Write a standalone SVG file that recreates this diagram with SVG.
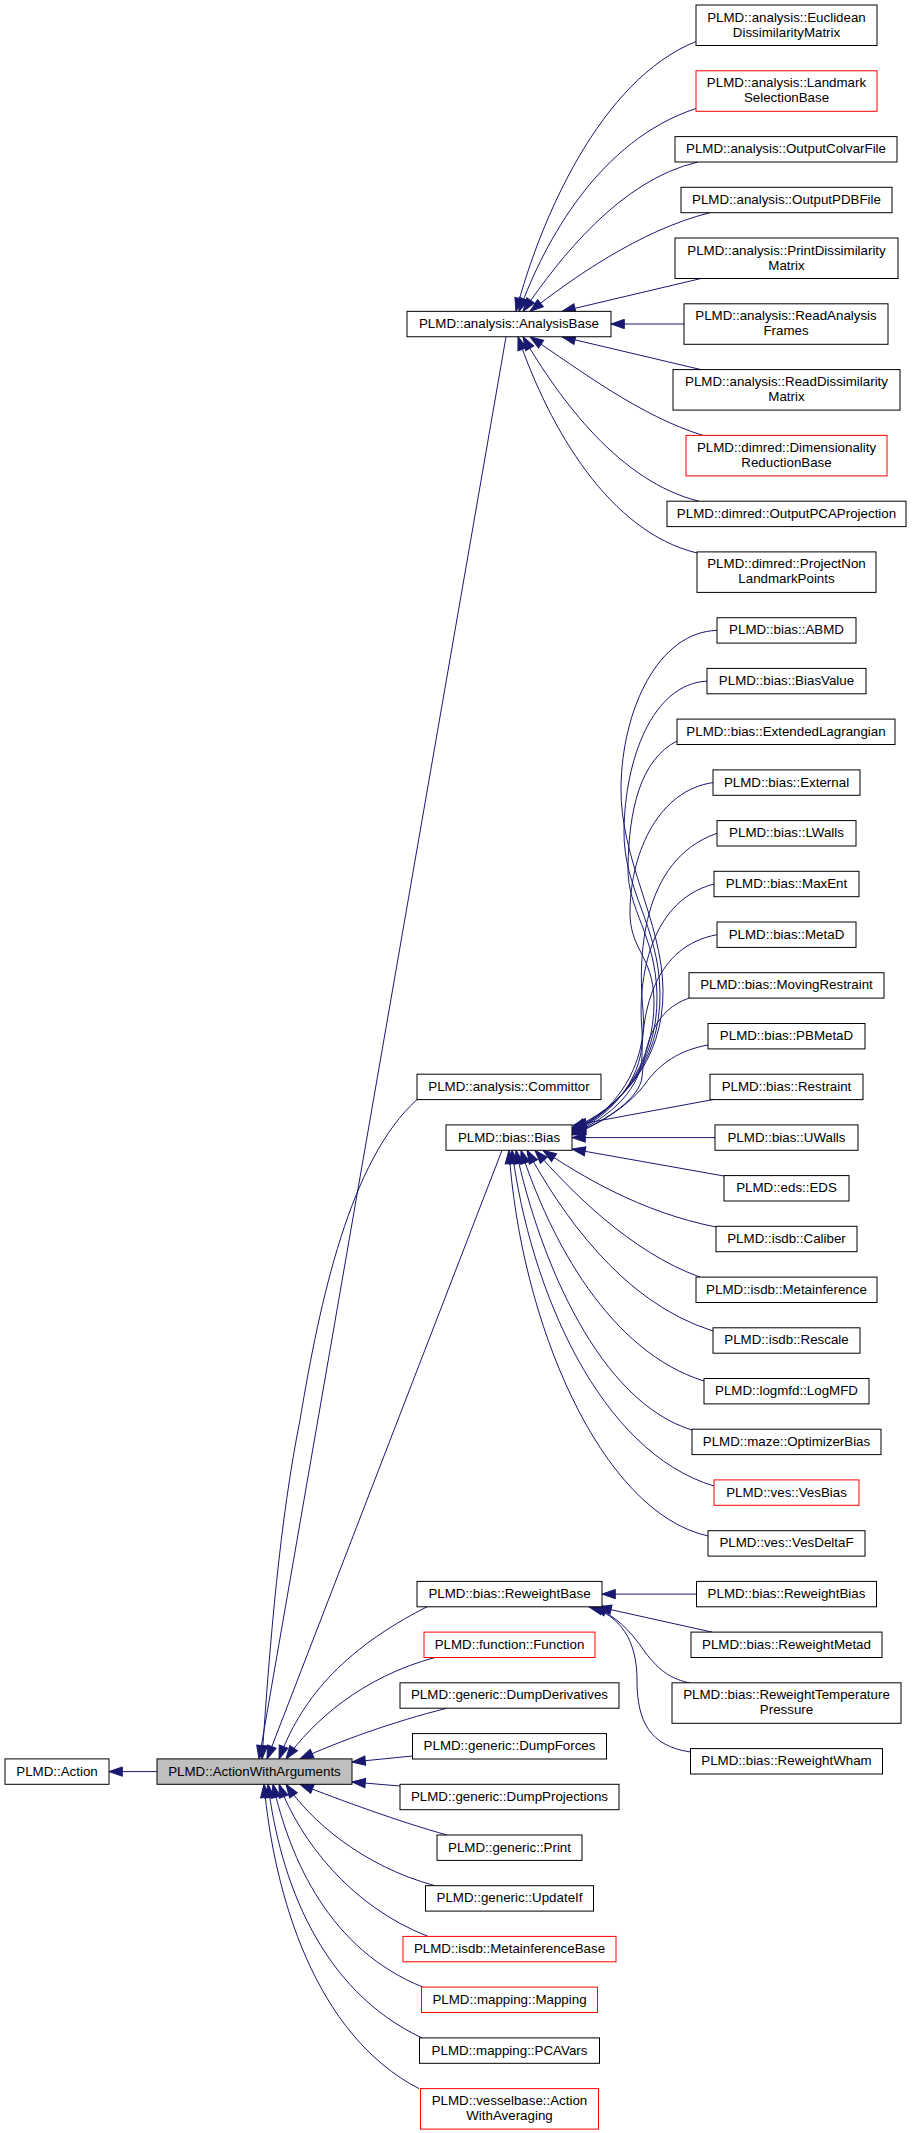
<svg xmlns="http://www.w3.org/2000/svg" width="912" height="2133" viewBox="0 0 912 2133">
<style>
.n rect{fill:#fff;stroke:#000;stroke-width:1}
.n.r rect{stroke:#f00}
.n.g rect{fill:#bfbfbf}
text{font-family:"Liberation Sans",Arial,Helvetica,sans-serif;font-size:13.33px;text-anchor:middle;fill:#000}
.e path{fill:none;stroke:#191970;stroke-width:1;marker-start:url(#a)}
</style>
<defs>
<marker id="a" markerUnits="userSpaceOnUse" markerWidth="16" markerHeight="12" refX="13.3" refY="5" orient="auto-start-reverse" overflow="visible">
<path d="M0,0.35 L13.3,5 L0,9.65 Z" fill="#191970" stroke="#191970" stroke-width="1"/>
</marker>
</defs>
<rect width="912" height="2133" fill="#fff"/>
<g class="e" id="connectors">
<path d="M109,1771.6 L157,1771.6"/>
<path d="M259,1759 L506,336.8"/>
<path d="M262,1759 C270,1640 280,1520 300,1420 C320,1300 350,1160 417,1099.6"/>
<path d="M267,1759 L502,1150.3"/>
<path d="M279,1759 C300,1702 340,1651 427,1606.8"/>
<path d="M286,1759 C312,1722 362,1677 435,1657.5"/>
<path d="M300,1759 C340,1741 392,1722 447,1708.2"/>
<path d="M352,1762 L412.5,1756"/>
<path d="M352,1782 L400,1786"/>
<path d="M300,1784.3 C340,1800 400,1822 447,1835"/>
<path d="M286,1784.3 C310,1820 362,1866 435,1885.7"/>
<path d="M279,1784.3 C300,1840 350,1906 428,1936.4"/>
<path d="M273,1784.3 C290,1860 330,1950 423,1987.1"/>
<path d="M268,1784.3 C280,1880 320,1990 422,2037.9"/>
<path d="M264,1784.3 C274,1895 315,2035 419,2088.6"/>
<path d="M516,311.4 C540,220 600,80 696,41.5"/>
<path d="M519,311.4 C545,240 600,140 696,108.5"/>
<path d="M523,311.4 C560,258 620,180 698,162"/>
<path d="M530,311.4 C570,280 640,230 710,212.7"/>
<path d="M562,311.4 L701,278.5"/>
<path d="M611,324 L684,324"/>
<path d="M562,336.8 L701,369.6"/>
<path d="M530,336.8 C580,370 640,416 703,435.4"/>
<path d="M523,336.8 C560,400 620,482 699,501.2"/>
<path d="M518,336.8 C550,430 610,532 697,553"/>
<path d="M572,1128 C618,1110 664,1062 663,990 C662,920 620,860 621,787 C622,710 658,632 717,630.4"/>
<path d="M572,1129 C617,1111 661,1064 660,993 C659,925 623,890 624,830 C625,760 652,684 707,681.1"/>
<path d="M572,1130 C616,1112 658,1066 657,996 C656,935 627,910 628,867 C629,810 640,760 677,741"/>
<path d="M572,1131 C615,1113 655,1068 654,1000 C653,955 629,950 630,910 C631,850 660,790 713,782.6"/>
<path d="M572,1132 C614,1114 648,1066 643,1010 C638,960 640,860 717,833.3"/>
<path d="M572,1133 C613,1115 646,1076 642,1030 C638,990 645,902 714,884"/>
<path d="M572,1134 C612,1117 642,1086 642,1056 C642,1010 655,946 717,934.7"/>
<path d="M572,1134.5 C610,1119 640,1097 642,1077 C645,1042 655,1010 689,998.1"/>
<path d="M572,1135 C605,1122 632,1102 645,1084 C660,1063 680,1050 708,1045"/>
<path d="M573,1125.5 L713,1099.6"/>
<path d="M572,1137.6 L715,1137.6"/>
<path d="M572,1149 L724,1176"/>
<path d="M543,1150.3 C580,1175 640,1212 716,1227"/>
<path d="M535,1150.3 C570,1190 630,1252 700,1277.1"/>
<path d="M527,1150.3 C560,1210 620,1302 713,1331"/>
<path d="M521,1150.3 C550,1240 610,1352 704,1381"/>
<path d="M516,1150.3 C540,1262 600,1402 692,1430"/>
<path d="M512,1150.3 C530,1290 600,1452 714,1486"/>
<path d="M509,1150.3 C520,1320 600,1512 708,1536"/>
<path d="M602,1594.1 L696.5,1594.1"/>
<path d="M598,1606.8 L712,1632.1"/>
<path d="M593,1606.8 C615,1615 630,1630 645,1652 C660,1672 672,1679 690,1683"/>
<path d="M589,1606.8 C620,1615 637,1640 637,1680 C637,1722 650,1746 690.5,1752"/>
</g>
<g class="n" id="n_action"><rect x="5" y="1758.9" width="104" height="25.4"/><text x="57" y="1775.5">PLMD::Action</text></g>
<g class="n g" id="n_actionwitharguments"><rect x="157" y="1758.9" width="195" height="25.4"/><text x="254.5" y="1775.5">PLMD::ActionWithArguments</text></g>
<g class="n" id="n_analysisbase"><rect x="407" y="311.35" width="204" height="25.4"/><text x="509" y="327.95">PLMD::analysis::AnalysisBase</text></g>
<g class="n" id="n_euclidean"><rect x="696" y="5" width="181" height="40.5"/><text x="786.5" y="21.5">PLMD::analysis::Euclidean</text><text x="786.5" y="36.5">DissimilarityMatrix</text></g>
<g class="n r" id="n_landmark"><rect x="696" y="70.8" width="181" height="40.5"/><text x="786.5" y="87.3">PLMD::analysis::Landmark</text><text x="786.5" y="102.3">SelectionBase</text></g>
<g class="n" id="n_outputcolvar"><rect x="675" y="136.6" width="222" height="25.4"/><text x="786" y="153.2">PLMD::analysis::OutputColvarFile</text></g>
<g class="n" id="n_outputpdb"><rect x="681" y="187.3" width="211" height="25.4"/><text x="786.5" y="203.9">PLMD::analysis::OutputPDBFile</text></g>
<g class="n" id="n_printdiss"><rect x="675" y="238" width="223" height="40.5"/><text x="786.5" y="254.5">PLMD::analysis::PrintDissimilarity</text><text x="786.5" y="269.5">Matrix</text></g>
<g class="n" id="n_readanalysis"><rect x="684" y="303.8" width="204" height="40.5"/><text x="786" y="320.3">PLMD::analysis::ReadAnalysis</text><text x="786" y="335.3">Frames</text></g>
<g class="n" id="n_readdiss"><rect x="673" y="369.6" width="227" height="40.5"/><text x="786.5" y="386.1">PLMD::analysis::ReadDissimilarity</text><text x="786.5" y="401.1">Matrix</text></g>
<g class="n r" id="n_dimred"><rect x="686" y="435.4" width="201" height="40.5"/><text x="786.5" y="451.9">PLMD::dimred::Dimensionality</text><text x="786.5" y="466.9">ReductionBase</text></g>
<g class="n" id="n_outputpca"><rect x="667" y="501.2" width="239" height="25.4"/><text x="786.5" y="517.8">PLMD::dimred::OutputPCAProjection</text></g>
<g class="n" id="n_projectnon"><rect x="697" y="551.9" width="179" height="40.5"/><text x="786.5" y="568.4">PLMD::dimred::ProjectNon</text><text x="786.5" y="583.4">LandmarkPoints</text></g>
<g class="n" id="n_abmd"><rect x="717" y="617.7" width="139" height="25.4"/><text x="786.5" y="634.3">PLMD::bias::ABMD</text></g>
<g class="n" id="n_biasvalue"><rect x="707" y="668.4" width="159" height="25.4"/><text x="786.5" y="685">PLMD::bias::BiasValue</text></g>
<g class="n" id="n_extlag"><rect x="677" y="719.1" width="218" height="25.4"/><text x="786" y="735.7">PLMD::bias::ExtendedLagrangian</text></g>
<g class="n" id="n_external"><rect x="713" y="769.9" width="147" height="25.4"/><text x="786.5" y="786.5">PLMD::bias::External</text></g>
<g class="n" id="n_lwalls"><rect x="717" y="820.6" width="139" height="25.4"/><text x="786.5" y="837.2">PLMD::bias::LWalls</text></g>
<g class="n" id="n_maxent"><rect x="714" y="871.3" width="145" height="25.4"/><text x="786.5" y="887.9">PLMD::bias::MaxEnt</text></g>
<g class="n" id="n_metad"><rect x="717" y="922" width="139" height="25.4"/><text x="786.5" y="938.6">PLMD::bias::MetaD</text></g>
<g class="n" id="n_movingrestraint"><rect x="689" y="972.7" width="195" height="25.4"/><text x="786.5" y="989.3">PLMD::bias::MovingRestraint</text></g>
<g class="n" id="n_pbmetad"><rect x="708" y="1023.5" width="157" height="25.4"/><text x="786.5" y="1040.1">PLMD::bias::PBMetaD</text></g>
<g class="n" id="n_committor"><rect x="417" y="1074.2" width="184" height="25.4"/><text x="509" y="1090.8">PLMD::analysis::Committor</text></g>
<g class="n" id="n_restraint"><rect x="710" y="1074.2" width="153" height="25.4"/><text x="786.5" y="1090.8">PLMD::bias::Restraint</text></g>
<g class="n" id="n_bias"><rect x="446" y="1124.9" width="126" height="25.4"/><text x="509" y="1141.5">PLMD::bias::Bias</text></g>
<g class="n" id="n_uwalls"><rect x="715" y="1124.9" width="143" height="25.4"/><text x="786.5" y="1141.5">PLMD::bias::UWalls</text></g>
<g class="n" id="n_eds"><rect x="724" y="1175.6" width="125" height="25.4"/><text x="786.5" y="1192.2">PLMD::eds::EDS</text></g>
<g class="n" id="n_caliber"><rect x="716" y="1226.3" width="141" height="25.4"/><text x="786.5" y="1242.9">PLMD::isdb::Caliber</text></g>
<g class="n" id="n_metainference"><rect x="696" y="1277.1" width="181" height="25.4"/><text x="786.5" y="1293.7">PLMD::isdb::Metainference</text></g>
<g class="n" id="n_rescale"><rect x="713" y="1327.8" width="147" height="25.4"/><text x="786.5" y="1344.4">PLMD::isdb::Rescale</text></g>
<g class="n" id="n_logmfd"><rect x="704" y="1378.5" width="165" height="25.4"/><text x="786.5" y="1395.1">PLMD::logmfd::LogMFD</text></g>
<g class="n" id="n_optimizerbias"><rect x="692" y="1429.2" width="189" height="25.4"/><text x="786.5" y="1445.8">PLMD::maze::OptimizerBias</text></g>
<g class="n r" id="n_vesbias"><rect x="714" y="1479.9" width="145" height="25.4"/><text x="786.5" y="1496.5">PLMD::ves::VesBias</text></g>
<g class="n" id="n_vesdeltaf"><rect x="708" y="1530.7" width="157" height="25.4"/><text x="786.5" y="1547.3">PLMD::ves::VesDeltaF</text></g>
<g class="n" id="n_reweightbase"><rect x="417" y="1581.4" width="185" height="25.4"/><text x="509.5" y="1598">PLMD::bias::ReweightBase</text></g>
<g class="n" id="n_reweightbias"><rect x="696.5" y="1581.4" width="180" height="25.4"/><text x="786.5" y="1598">PLMD::bias::ReweightBias</text></g>
<g class="n" id="n_reweightmetad"><rect x="691" y="1632.1" width="191" height="25.4"/><text x="786.5" y="1648.7">PLMD::bias::ReweightMetad</text></g>
<g class="n" id="n_reweighttemp"><rect x="672" y="1682.8" width="229" height="40.5"/><text x="786.5" y="1699.3">PLMD::bias::ReweightTemperature</text><text x="786.5" y="1714.3">Pressure</text></g>
<g class="n" id="n_reweightwham"><rect x="690.5" y="1748.6" width="192" height="25.4"/><text x="786.5" y="1765.2">PLMD::bias::ReweightWham</text></g>
<g class="n r" id="n_function"><rect x="424" y="1632.1" width="171" height="25.4"/><text x="509.5" y="1648.7">PLMD::function::Function</text></g>
<g class="n" id="n_dumpderivatives"><rect x="400" y="1682.8" width="219" height="25.4"/><text x="509.5" y="1699.4">PLMD::generic::DumpDerivatives</text></g>
<g class="n" id="n_dumpforces"><rect x="412.5" y="1733.6" width="194" height="25.4"/><text x="509.5" y="1750.2">PLMD::generic::DumpForces</text></g>
<g class="n" id="n_dumpprojections"><rect x="400" y="1784.3" width="219" height="25.4"/><text x="509.5" y="1800.9">PLMD::generic::DumpProjections</text></g>
<g class="n" id="n_print"><rect x="437" y="1835" width="145" height="25.4"/><text x="509.5" y="1851.6">PLMD::generic::Print</text></g>
<g class="n" id="n_updateif"><rect x="425.5" y="1885.7" width="168" height="25.4"/><text x="509.5" y="1902.3">PLMD::generic::UpdateIf</text></g>
<g class="n r" id="n_metainferencebase"><rect x="403" y="1936.4" width="213" height="25.4"/><text x="509.5" y="1953">PLMD::isdb::MetainferenceBase</text></g>
<g class="n r" id="n_mapping"><rect x="421.5" y="1987.1" width="176" height="25.4"/><text x="509.5" y="2003.7">PLMD::mapping::Mapping</text></g>
<g class="n" id="n_pcavars"><rect x="419.5" y="2037.9" width="180" height="25.4"/><text x="509.5" y="2054.5">PLMD::mapping::PCAVars</text></g>
<g class="n r" id="n_vesselbase"><rect x="420.5" y="2088.6" width="178" height="40.5"/><text x="509.5" y="2105.1">PLMD::vesselbase::Action</text><text x="509.5" y="2120.1">WithAveraging</text></g>
</svg>
